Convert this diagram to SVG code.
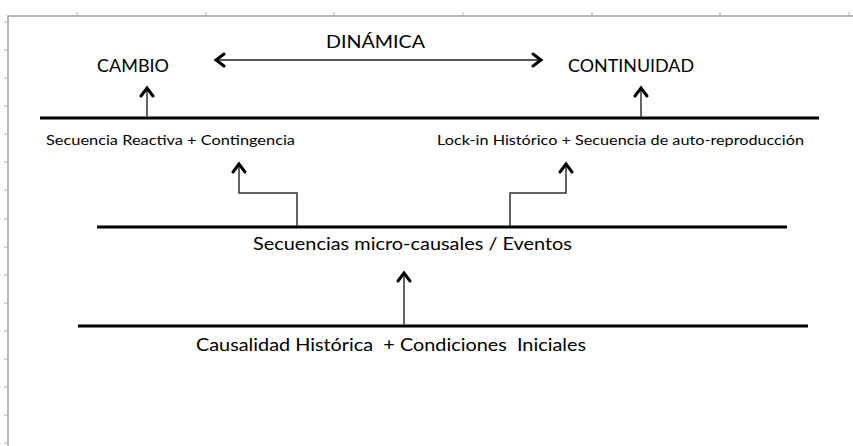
<svg xmlns="http://www.w3.org/2000/svg" width="853" height="446" viewBox="0 0 853 446">
<style>
.frame{stroke:#a0a0a0;stroke-width:1.5;fill:none}
.tick{stroke:#b0b0b0;stroke-width:1}
.bar{stroke:#000;stroke-width:3;fill:none}
.conn{stroke:#333;stroke-width:1.5;fill:none}
.lbl{font-family:Lato,"Open Sans","Liberation Sans",sans-serif;fill:#000}
.big{font-size:17.5px}
.mid{font-size:16.5px}
.small{font-size:14px}
</style>
<defs>
<marker id="chev" markerUnits="userSpaceOnUse" viewBox="-12 -8 14 16" refX="0" refY="0" markerWidth="14" markerHeight="16" orient="auto-start-reverse" overflow="visible">
<path d="M-8,-6 L0,0 L-8,6" fill="none" stroke="#000" stroke-width="3" stroke-linejoin="miter" stroke-linecap="round"/>
</marker>
</defs>
<rect width="853" height="446" fill="#fff"/>
<g id="frame">
<path class="frame" d="M8,446 V16 H853"/>
<path class="tick" d="M77,16 V12 M206,16 V12 M334,16 V12 M463,16 V12 M592,16 V12 M720,16 V12 M849,16 V12"/>
<path class="tick" d="M8,22 H4 M8,50 H4 M8,78 H4 M8,106 H4 M8,134 H4 M8,162 H4 M8,190 H4 M8,219 H4 M8,247 H4 M8,275 H4 M8,303 H4 M8,331 H4 M8,359 H4 M8,387 H4 M8,415 H4 M8,443 H4"/>
</g>
<g id="dinamica"><text class="lbl big" x="326" y="48" textLength="99" lengthAdjust="spacingAndGlyphs">DINÁMICA</text></g>
<g id="cambio"><text class="lbl big" x="97" y="72" textLength="72" lengthAdjust="spacingAndGlyphs">CAMBIO</text></g>
<g id="continuidad"><text class="lbl big" x="568" y="72" textLength="126" lengthAdjust="spacingAndGlyphs">CONTINUIDAD</text></g>
<g id="nivel-superior">
<line class="bar" x1="40" y1="118" x2="819" y2="118"/>
<text class="lbl small" x="46" y="145" textLength="249" lengthAdjust="spacingAndGlyphs">Secuencia Reactiva + Contingencia</text>
<text class="lbl small" x="437" y="145" textLength="367" lengthAdjust="spacingAndGlyphs">Lock-in Histórico + Secuencia de auto-reproducción</text>
</g>
<g id="nivel-medio">
<line class="bar" x1="97" y1="227" x2="787" y2="227"/>
<text class="lbl mid" x="253" y="250" textLength="319" lengthAdjust="spacingAndGlyphs">Secuencias micro-causales / Eventos</text>
</g>
<g id="nivel-inferior">
<line class="bar" x1="78" y1="326" x2="808" y2="326"/>
<text class="lbl mid" x="196" y="351" textLength="390" lengthAdjust="spacingAndGlyphs" xml:space="preserve">Causalidad Histórica  + Condiciones  Iniciales</text>
</g>
<g id="connectors">
<line class="conn" x1="216" y1="60" x2="541" y2="60" marker-start="url(#chev)" marker-end="url(#chev)" style="stroke:#222"/>
<line class="conn" x1="147" y1="117" x2="147" y2="88" marker-end="url(#chev)"/>
<line class="conn" x1="641" y1="117" x2="641" y2="88" marker-end="url(#chev)"/>
<polyline class="conn" points="297,226 297,193 239,193 239,164" marker-end="url(#chev)"/>
<polyline class="conn" points="510,226 510,193 566,193 566,164" marker-end="url(#chev)"/>
<line class="conn" x1="404" y1="325" x2="404" y2="273" marker-end="url(#chev)"/>
</g>
</svg>
